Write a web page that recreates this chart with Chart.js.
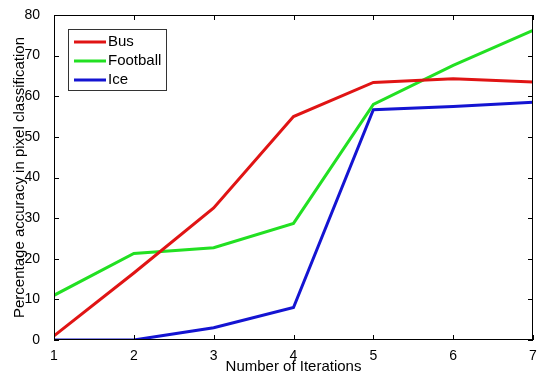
<!DOCTYPE html>
<html>
<head>
<meta charset="utf-8">
<script src="https://cdn.jsdelivr.net/npm/chart.js@4"></script>
<style>
  html, body { margin: 0; padding: 0; background: #fff; }
  #wrap { width: 538px; height: 376px; }
</style>
</head>
<body>
<div id="wrap"><canvas id="chart" width="538" height="376"></canvas></div>
<script>
// data
const iterations = [1, 2, 3, 4, 5, 6, 7];
const busValues = [1, 16.5, 32.5, 55, 63.4, 64.3, 63.5];
const footballValues = [11, 21.3, 22.7, 28.7, 58, 67.6, 76.2];
const iceValues = [0, 0, 3, 8, 56.7, 57.5, 58.5];
const seriesNames = ["Bus", "Football", "Ice"];
const seriesColors = ["#e01414", "#22e022", "#1414d2"];
const yTicks = [0, 10, 20, 30, 40, 50, 60, 70, 80];

const FONT = "'Liberation Sans', Arial, sans-serif";

function toPoints(vals) {
    return vals.map((v, i) => ({ x: iterations[i], y: v }));
}

// MATLAB style: box, inward ticks on every side, legend inside top-left
const matlabBox = {
    id: "matlabBox",
    afterDatasetsDraw(chart) {
        const ctx = chart.ctx;
        const a = chart.chartArea;
        const xs = chart.scales.x;
        const ys = chart.scales.y;
        ctx.save();
        ctx.strokeStyle = "#000";
        ctx.lineWidth = 1;
        ctx.strokeRect(a.left + 0.5, a.top + 0.5, a.right - a.left - 1, a.bottom - a.top - 1);
        ctx.beginPath();
        const t = 5;
        iterations.forEach((v) => {
            const px = Math.round(xs.getPixelForValue(v)) + 0.5;
            ctx.moveTo(px, a.bottom); ctx.lineTo(px, a.bottom - t);
            ctx.moveTo(px, a.top); ctx.lineTo(px, a.top + t);
        });
        yTicks.forEach((v) => {
            const py = Math.round(ys.getPixelForValue(v)) + 0.5;
            ctx.moveTo(a.left, py); ctx.lineTo(a.left + t, py);
            ctx.moveTo(a.right, py); ctx.lineTo(a.right - t, py);
        });
        ctx.stroke();

        // legend
        const lx = a.left + 14, ly = a.top + 14, lw = 98, lh = 61;
        ctx.fillStyle = "#fff";
        ctx.fillRect(lx, ly, lw, lh);
        ctx.strokeStyle = "#333";
        ctx.strokeRect(lx + 0.5, ly + 0.5, lw, lh);
        ctx.font = "15px " + FONT;
        ctx.textBaseline = "middle";
        seriesNames.forEach((name, i) => {
            const yy = ly + 13 + i * 19;
            ctx.strokeStyle = seriesColors[i];
            ctx.lineWidth = 3;
            ctx.beginPath();
            ctx.moveTo(lx + 6, yy);
            ctx.lineTo(lx + 38, yy);
            ctx.stroke();
            ctx.fillStyle = "#000";
            ctx.fillText(name, lx + 40, yy);
        });
        ctx.restore();
    }
};

const allSeries = [busValues, footballValues, iceValues];

new Chart(document.getElementById("chart"), {
    type: "line",
    data: {
        datasets: allSeries.map((vals, i) => ({
            label: seriesNames[i],
            data: toPoints(vals),
            borderColor: seriesColors[i],
            borderWidth: 3,
            pointRadius: 0,
            tension: 0,
            fill: false
        }))
    },
    options: {
        responsive: false,
        animation: false,
        layout: { padding: { left: 0, right: 5, top: 15, bottom: 0 } },
        plugins: {
            legend: { display: false },
            tooltip: { enabled: false }
        },
        scales: {
            x: {
                type: "linear",
                min: 1,
                max: 7,
                grid: { display: false },
                border: { display: false },
                ticks: {
                    stepSize: 1,
                    color: "#000",
                    padding: 0,
                    font: { family: FONT, size: 14 }
                },
                title: {
                    display: true,
                    text: "Number of Iterations",
                    color: "#000",
                    padding: { top: 0, bottom: 0 },
                    font: { family: FONT, size: 15 }
                },
                afterFit(s) { s.height = 36; }
            },
            y: {
                min: 0,
                max: 80,
                grid: { display: false },
                border: { display: false },
                ticks: {
                    stepSize: 10,
                    color: "#000",
                    padding: 6,
                    font: { family: FONT, size: 14 }
                },
                title: {
                    display: true,
                    text: "Percentage accuracy in pixel classification",
                    color: "#000",
                    padding: { top: 11, bottom: 0 },
                    font: { family: FONT, size: 15 }
                },
                afterFit(s) { s.width = 54; }
            }
        }
    },
    plugins: [matlabBox]
});
</script>
</body>
</html>
